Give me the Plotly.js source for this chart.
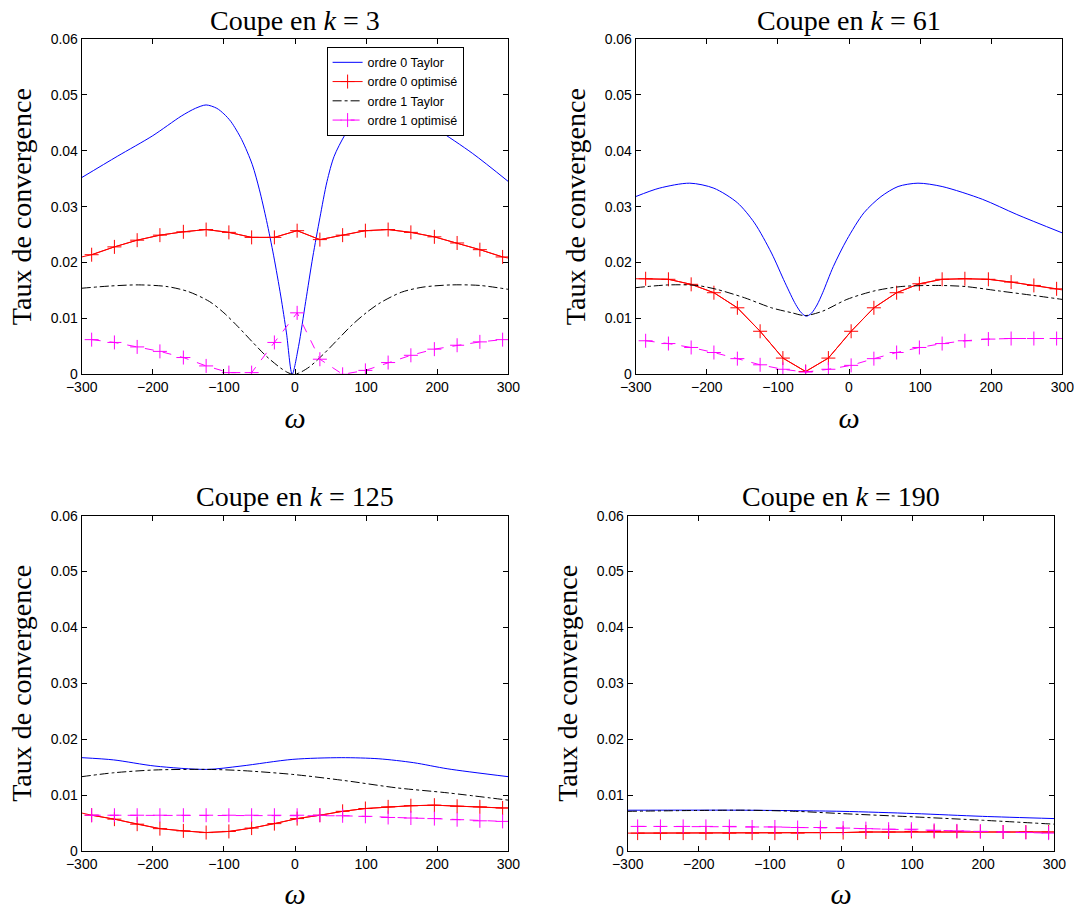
<!DOCTYPE html>
<html>
<head>
<meta charset="utf-8">
<script src="https://cdn.plot.ly/plotly-3.0.1.min.js"></script>
<style>html,body{margin:0;padding:0;background:#fff;}#chart{width:1074px;height:913px;}</style>
</head>
<body>
<div id="chart"></div>
<script>
// ---------- data ----------
const kValues = ['3', '61', '125', '190'];
const seriesNames = ['ordre 0 Taylor', 'ordre 0 optimisé', 'ordre 1 Taylor', 'ordre 1 optimisé'];
const xTicks = [-300, -200, -100, 0, 100, 200, 300];
const xTickText = ['\u2212300', '\u2212200', '\u2212100', '0', '100', '200', '300'];
const yTicks = [0, 0.01, 0.02, 0.03, 0.04, 0.05, 0.06];
const yTickText = ['0', '0.01', '0.02', '0.03', '0.04', '0.05', '0.06'];

// omega samples of the optimised curves (markers), with the axis ends for the red line
const markerX = [-286,-254,-222,-190,-157,-125,-93,-61,-29,3,35,67,99,131,163,196,228,260,292];
const optX = [-300,-286,-254,-222,-190,-157,-125,-93,-61,-29,3,35,67,99,131,163,196,228,260,292,300];

// k = 3
const blueX_k3 = [-300,-250,-200,-160,-140,-125,-110,-100,-90,-75,-60,-50,-40,-30,-20,-12,-4,5,15,25,35,45,55,70,90,105,120,140,165,200,250,300];
const blueY_k3 = [0.0352,0.0390,0.0427,0.0462,0.0476,0.0482,0.0476,0.0466,0.0452,0.0420,0.0375,0.0330,0.0275,0.0212,0.0140,0.0074,0.0000,0.0050,0.0130,0.0210,0.0280,0.0345,0.0390,0.0428,0.0466,0.0478,0.0482,0.0478,0.0464,0.0438,0.0395,0.0345];
const blackX_k3 = [-300,-260,-220,-180,-150,-120,-100,-80,-60,-40,-20,-10,-3,5,20,40,60,80,100,120,150,180,220,260,300];
const blackY_k3 = [0.0154,0.0158,0.0160,0.0157,0.0148,0.0130,0.0110,0.0085,0.0058,0.0032,0.0011,0.0003,0.0000,0.0002,0.0013,0.0036,0.0062,0.0088,0.0110,0.0128,0.0147,0.0156,0.0160,0.0159,0.0152];
const redY_k3 = [0.0210,0.0214,0.0228,0.0240,0.0249,0.0255,0.0259,0.0254,0.0245,0.0245,0.0257,0.0241,0.0249,0.0257,0.0259,0.0254,0.0246,0.0235,0.0223,0.0210,0.0208];
const magY_k3 = [0.0062,0.0057,0.0049,0.0041,0.0030,0.0015,0.0003,0.0003,0.0057,0.0110,0.0027,0.0000,0.0007,0.0021,0.0034,0.0045,0.0052,0.0058,0.0062];

// k = 61
const blueX_k61 = [-300,-267,-224,-190,-157,-133,-109,-90,-75,-67,-60,-53,-45,-37,-22,-3,21,45,69,97,131,188,236,300];
const blueY_k61 = [0.0318,0.0333,0.0342,0.0333,0.0307,0.0271,0.0217,0.0164,0.0125,0.0110,0.0104,0.0109,0.0124,0.0146,0.0193,0.0241,0.0289,0.0318,0.0336,0.0342,0.0336,0.0313,0.0286,0.0253];
const blackX_k61 = [-300,-253,-214,-186,-147,-109,-80,-62,-37,-3,35,73,126,164,212,260,300];
const blackY_k61 = [0.0155,0.0160,0.0159,0.0152,0.0137,0.0119,0.0110,0.0105,0.0113,0.0134,0.0149,0.0157,0.0159,0.0157,0.0149,0.0141,0.0134];
const redY_k61 = [0.0171,0.0171,0.0170,0.0161,0.0146,0.0119,0.0077,0.0029,0.0005,0.0029,0.0077,0.0119,0.0146,0.0162,0.0170,0.0171,0.0170,0.0165,0.0159,0.0153,0.0151];
const magY_k61 = [0.0060,0.0055,0.0048,0.0039,0.0028,0.0017,0.0009,0.0004,0.0009,0.0016,0.0028,0.0039,0.0048,0.0055,0.0060,0.0063,0.0064,0.0064,0.0064];

// k = 125
const blueX_k125 = [-300,-255,-197,-124,-76,-3,65,118,167,215,300];
const blueY_k125 = [0.0167,0.0163,0.0152,0.0146,0.0152,0.0164,0.0167,0.0165,0.0158,0.0147,0.0133];
const blackX_k125 = [-300,-255,-197,-124,-76,-3,70,143,215,300];
const blackY_k125 = [0.0133,0.0140,0.0145,0.0146,0.0144,0.0137,0.0126,0.0113,0.0104,0.0091];
const redY_k125 = [0.0068,0.0064,0.0057,0.0048,0.0040,0.0036,0.0033,0.0035,0.0041,0.0049,0.0058,0.0064,0.0071,0.0076,0.0079,0.0081,0.0082,0.0080,0.0079,0.0077,0.0077];
const magY_k125 = [0.0064,0.0064,0.0064,0.0064,0.0064,0.0064,0.0064,0.0064,0.0064,0.0064,0.0064,0.0063,0.0062,0.0060,0.0059,0.0058,0.0056,0.0054,0.0053];

// k = 190
const blueX_k190 = [-300,-136,0,103,199,300];
const blueY_k190 = [0.0073,0.0073,0.0071,0.0067,0.0062,0.0058];
const blackX_k190 = [-300,-136,-64,0,103,199,300];
const blackY_k190 = [0.0071,0.0073,0.0071,0.0067,0.0061,0.0055,0.0048];
const redY_k190 = [0.0032,0.0032,0.0032,0.0032,0.0032,0.0032,0.0032,0.0032,0.0032,0.0033,0.0033,0.0034,0.0034,0.0035,0.0035,0.0035,0.0035,0.0034,0.0034,0.0034,0.0034];
const magY_k190 = [0.0044,0.0044,0.0044,0.0044,0.0044,0.0043,0.0043,0.0042,0.0042,0.0041,0.0040,0.0039,0.0039,0.0037,0.0036,0.0035,0.0034,0.0033,0.0032];

// ---------- build ----------
const blueXs = [blueX_k3, blueX_k61, blueX_k125, blueX_k190];
const blueYs = [blueY_k3, blueY_k61, blueY_k125, blueY_k190];
const blackXs = [blackX_k3, blackX_k61, blackX_k125, blackX_k190];
const blackYs = [blackY_k3, blackY_k61, blackY_k125, blackY_k190];
const redYs = [redY_k3, redY_k61, redY_k125, redY_k190];
const magYs = [magY_k3, magY_k61, magY_k125, magY_k190];

const W = 1074, H = 913;
// plot boxes in pixels [left, right, top, bottom]
const boxes = [
  [81.7, 508.3, 39, 374.3],
  [635.7, 1062.3, 39, 374.3],
  [81.7, 508.3, 515.7, 851],
  [627.7, 1054.3, 515.7, 851]
];
const titleY = [20, 20, 496, 496];

const sansFont = 'Liberation Sans, Arial, Helvetica, sans-serif';
const serifFont = 'Liberation Serif, Times New Roman, serif';

const traces = [];
const layout = {
  width: W, height: H, autosize: false,
  margin: {l: 0, r: 0, t: 0, b: 0, pad: 0},
  paper_bgcolor: '#ffffff', plot_bgcolor: '#ffffff',
  showlegend: true,
  legend: {
    x: 326.6 / W, y: 1 - 46.7 / H, xanchor: 'left', yanchor: 'top',
    bgcolor: '#ffffff', bordercolor: '#000000', borderwidth: 1,
    font: {family: sansFont, size: 12.5, color: '#000'},
    tracegroupgap: 0, itemwidth: 30
  },
  annotations: []
};

for (let i = 0; i < 4; i++) {
  const n = i === 0 ? '' : String(i + 1);
  const xa = 'x' + n, ya = 'y' + n;
  const b = boxes[i];
  const showLeg = i === 0;
  traces.push({
    x: blueXs[i], y: blueYs[i], xaxis: xa, yaxis: ya, type: 'scatter', mode: 'lines',
    name: seriesNames[0], showlegend: showLeg, legendgroup: 'a',
    line: {color: '#0000ff', width: 1, shape: 'spline', smoothing: 0.8}
  });
  // red line reaching the axis ends
  traces.push({
    x: optX, y: redYs[i], xaxis: xa, yaxis: ya, type: 'scatter', mode: 'lines',
    name: seriesNames[1], showlegend: false, legendgroup: 'b',
    line: {color: '#ff0000', width: 1}
  });
  // red markers at the sampled omegas
  traces.push({
    x: optX.slice(1, -1), y: redYs[i].slice(1, -1), xaxis: xa, yaxis: ya, type: 'scatter', mode: 'lines+markers',
    name: seriesNames[1], showlegend: showLeg, legendgroup: 'b',
    line: {color: '#ff0000', width: 1},
    marker: {symbol: 'cross-thin', size: 10, color: '#ff0000', line: {color: '#ff0000', width: 1}}
  });
  traces.push({
    x: blackXs[i], y: blackYs[i], xaxis: xa, yaxis: ya, type: 'scatter', mode: 'lines',
    name: seriesNames[2], showlegend: showLeg, legendgroup: 'c',
    line: {color: '#000000', width: 1, dash: 'dashdot', shape: 'spline', smoothing: 0.8}
  });
  traces.push({
    x: markerX, y: magYs[i], xaxis: xa, yaxis: ya, type: 'scatter', mode: 'lines+markers',
    name: seriesNames[3], showlegend: showLeg, legendgroup: 'd',
    line: {color: '#ff00ff', width: 1, dash: 'dash'},
    marker: {symbol: 'cross-thin', size: 10, color: '#ff00ff', line: {color: '#ff00ff', width: 1}}
  });

  layout['xaxis' + n] = {
    domain: [b[0] / W, b[1] / W], anchor: ya, range: [-300, 300],
    tickmode: 'array', tickvals: xTicks, ticktext: xTickText,
    ticks: 'inside', ticklen: 5, tickwidth: 1, tickcolor: '#000',
    showline: true, linecolor: '#000', linewidth: 1, mirror: 'ticks',
    showgrid: false, zeroline: false, automargin: false,
    ticklabeloverflow: 'allow',
    tickfont: {family: sansFont, size: 14, color: '#000'},
    title: {text: '<i>ω</i>', font: {family: serifFont, size: 30, color: '#000'}, standoff: 12}
  };
  layout['yaxis' + n] = {
    domain: [1 - b[3] / H, 1 - b[2] / H], anchor: xa, range: [0, 0.06],
    tickmode: 'array', tickvals: yTicks, ticktext: yTickText,
    ticks: 'inside', ticklen: 5, tickwidth: 1, tickcolor: '#000',
    showline: true, linecolor: '#000', linewidth: 1, mirror: 'ticks',
    showgrid: false, zeroline: false, automargin: false,
    ticklabeloverflow: 'allow',
    tickfont: {family: sansFont, size: 14, color: '#000'},
    title: {text: 'Taux de convergence', font: {family: serifFont, size: 28, color: '#000'}, standoff: 10}
  };
  layout.annotations.push({
    xref: 'paper', yref: 'paper', x: (b[0] + b[1]) / 2 / W, y: 1 - titleY[i] / H,
    xanchor: 'center', yanchor: 'middle', showarrow: false,
    text: 'Coupe en <i>k</i> = ' + kValues[i],
    font: {family: serifFont, size: 28, color: '#000'}
  });
}

Plotly.newPlot('chart', traces, layout, {staticPlot: true, displayModeBar: false});
</script>
</body>
</html>
